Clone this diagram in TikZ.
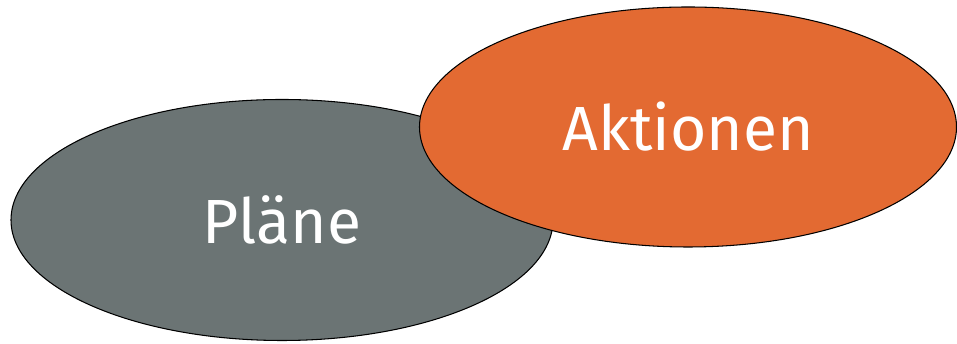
\documentclass[tikz,border=0pt]{standalone}
\usepackage{fontspec}
\setmainfont{Fira Sans}
\usetikzlibrary{shapes.geometric}
\definecolor{planegray}{HTML}{6B7474}
\definecolor{aktorange}{HTML}{E36A32}
\tikzset{
    blob/.style={ellipse, draw=black, line width=0.6pt, inner sep=0pt, text=white,
        font=\fontsize{35.5}{42}\selectfont}
}
\begin{document}
\begin{tikzpicture}
            \useasboundingbox (0,0) rectangle (19.14,6.88);
            \node[blob, fill=planegray, minimum width=10.84cm, minimum height=4.82cm] (plaene) at (5.64, 2.48) {Pläne};
            \node[blob, fill=aktorange, minimum width=10.74cm, minimum height=4.8cm] (aktionen) at (13.76, 4.34) {Aktionen};
        \end{tikzpicture}
\end{document}
